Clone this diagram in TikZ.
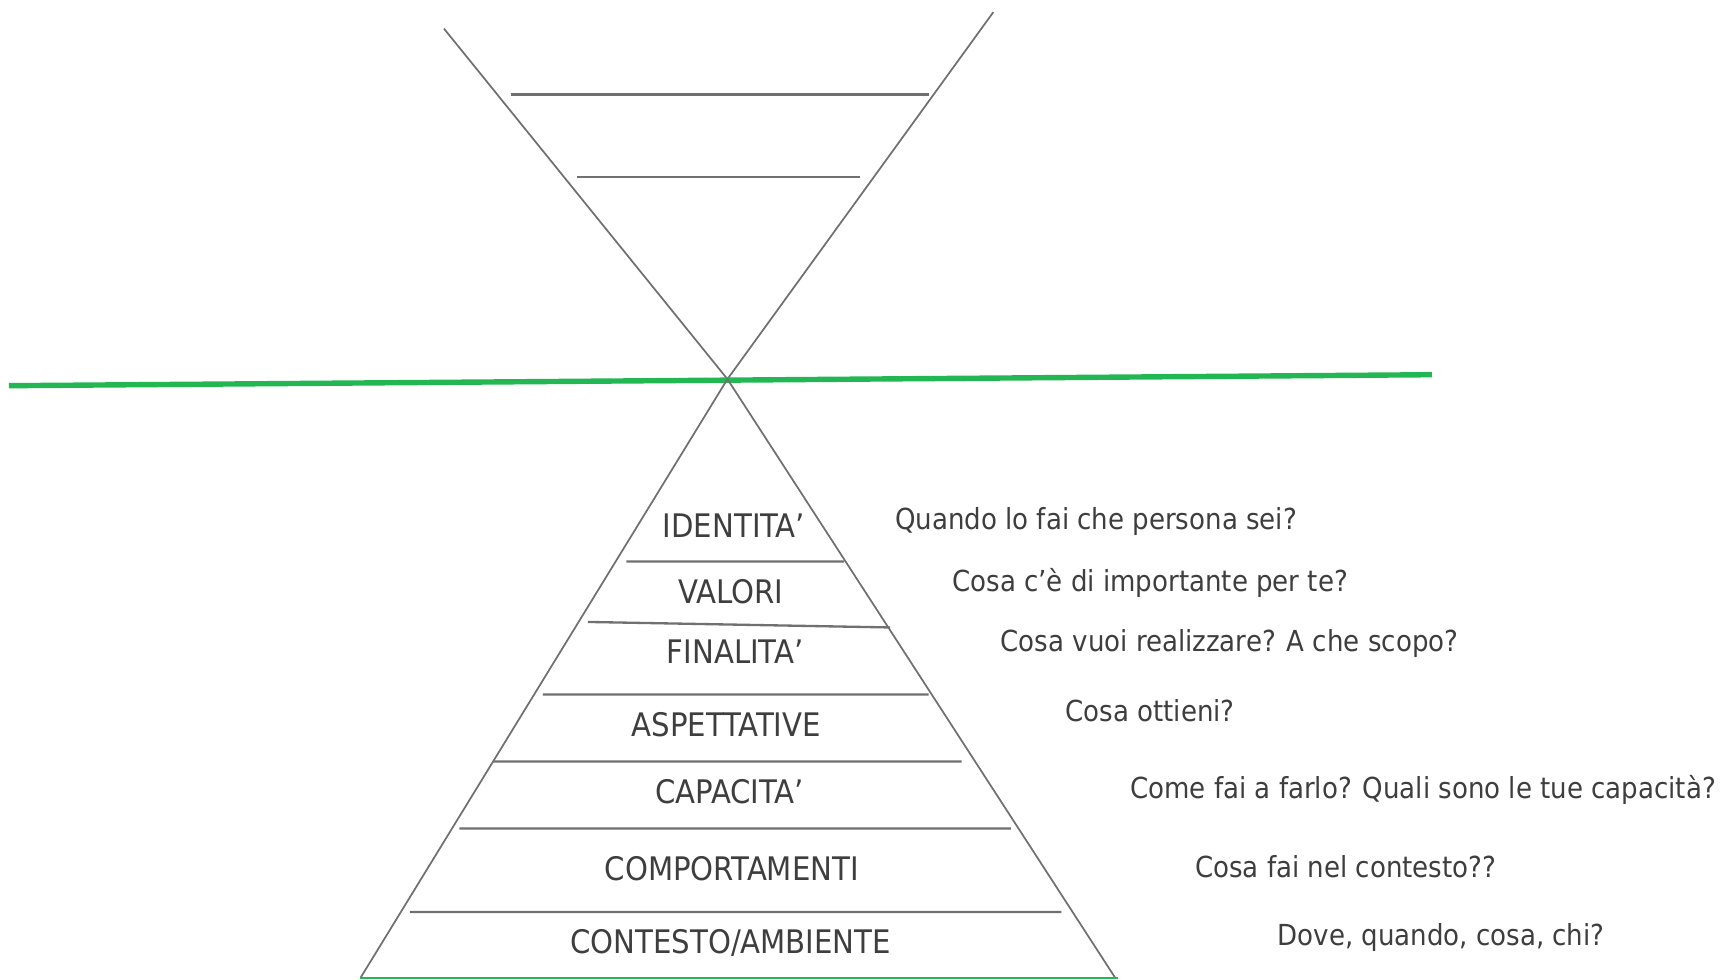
\documentclass[tikz,border=0pt]{standalone}
\usepackage{fontspec}
\setmainfont{DejaVu Sans Condensed}
\definecolor{linegray}{RGB}{112,112,112}
\definecolor{textgray}{RGB}{62,62,62}
\definecolor{bandgreen}{RGB}{35,183,83}
\begin{document}
\begin{tikzpicture}[x=0.1mm,y=-0.1mm,
        every node/.style={text=textgray,inner sep=0pt,font=\fontsize{7.5}{9}\selectfont},
        level/.style={anchor=base,font=\fontsize{8.4}{10}\selectfont},
        question/.style={anchor=base west},
        rung/.style={linegray,line width=0.6pt}]
    \useasboundingbox (0,0) rectangle (1568,891);
    \coordinate (apex) at (662,345);
    % upper funnel
    \draw[linegray,line width=0.45pt] (404,26) -- (apex) (904,11) -- (apex);
    \draw[rung] (465,86) -- (845,86)
                (525,161) -- (783,161);
    % horizon
    \draw[bandgreen,line width=1.4pt] (8,351) -- (1303,341);
    % pyramid
    \draw[linegray,line width=0.45pt] (328,890) -- (apex) -- (1015,890);
    \draw[bandgreen,line width=0.5pt] (328,890) -- (1017,890);
    \draw[rung] (570,511) -- (768,511)
                (535,566) -- (810,571)
                (494,632) -- (845,632)
                (449,693) -- (875,693)
                (418,754) -- (920,754)
                (373,830) -- (966,830);
    \node[level] (identita) at (668,489) {IDENTITA’};
    \node[level] (valori) at (665,549) {VALORI};
    \node[level] (finalita) at (669,604) {FINALITA’};
    \node[level] (aspettative) at (661,670) {ASPETTATIVE};
    \node[level] (capacita) at (664,731) {CAPACITA’};
    \node[level] (comportamenti) at (666,801) {COMPORTAMENTI};
    \node[level] (contesto) at (665,868) {CONTESTO/AMBIENTE};
    \node[question] (q-identita) at (814,482) {Quando lo fai che persona sei?};
    \node[question] (q-valori) at (866,538) {Cosa c’è di importante per te?};
    \node[question] (q-finalita) at (910,593) {Cosa vuoi realizzare? A che scopo?};
    \node[question] (q-aspettative) at (969,657) {Cosa ottieni?};
    \node[question] (q-capacita) at (1028,727) {Come fai a farlo? Quali sono le tue capacità?};
    \node[question] (q-comportamenti) at (1087,799) {Cosa fai nel contesto??};
    \node[question] (q-contesto) at (1162,860) {Dove, quando, cosa, chi?};
\end{tikzpicture}
\end{document}
